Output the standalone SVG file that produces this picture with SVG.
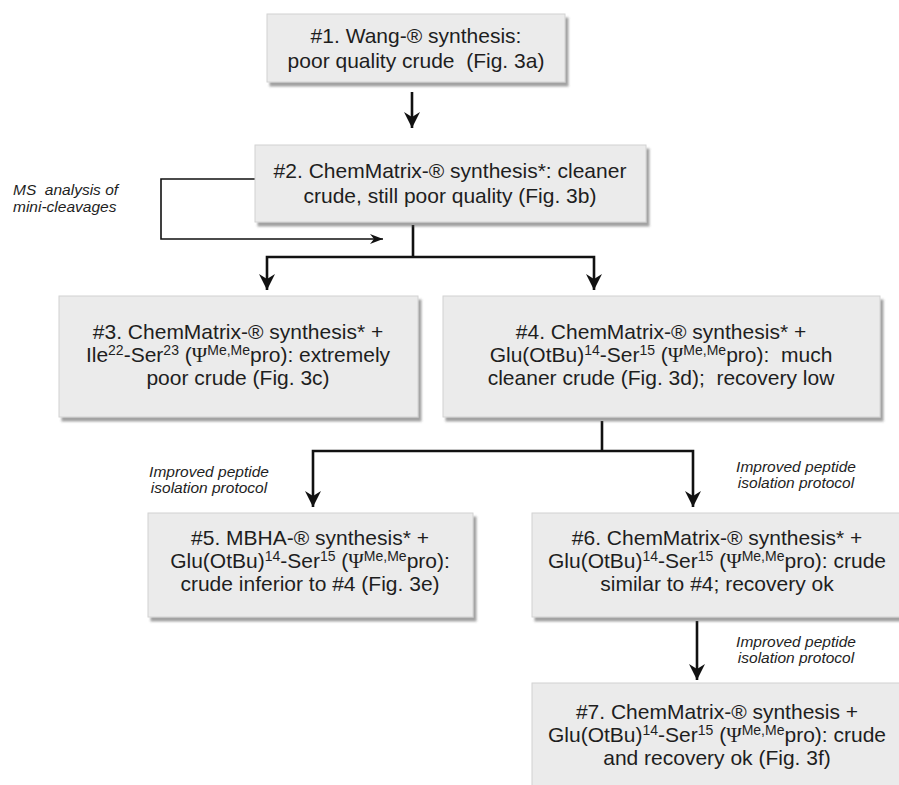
<svg xmlns="http://www.w3.org/2000/svg" width="899" height="785" viewBox="0 0 899 785">
<style>
.box{fill:#ebebeb;stroke:#d2d2d2;stroke-width:1;filter:url(#sh)}
.t{font-family:"Liberation Sans",Arial,sans-serif;font-size:21px;fill:#1e1e1e;text-anchor:middle;white-space:pre}
.lab{font-family:"Liberation Sans",Arial,sans-serif;font-size:15.5px;font-style:italic;fill:#1e1e1e;text-anchor:middle;white-space:pre}
.sup{font-size:14px}
.psi{font-family:"Liberation Serif","Times New Roman",serif}
.c{fill:none;stroke:#111;stroke-width:2.6}
.cs{fill:none;stroke:#111;stroke-width:1.6}
</style>
<defs>
<filter id="sh" x="-5%" y="-5%" width="115%" height="120%">
<feDropShadow dx="3" dy="4" stdDeviation="1.3" flood-color="#555" flood-opacity="0.55"/>
</filter>
<marker id="ah" markerUnits="userSpaceOnUse" markerWidth="20" markerHeight="20" refX="16" refY="8" orient="auto" viewBox="0 0 20 20">
<path d="M16,8 L0,0 L5,8 L0,16 Z" fill="#111"/>
</marker>
<marker id="as" markerUnits="userSpaceOnUse" markerWidth="16" markerHeight="12" refX="13" refY="5" orient="auto" viewBox="0 0 16 12">
<path d="M13,5 L0,0 L4,5 L0,10 Z" fill="#111"/>
</marker>
</defs>

<g id="connectors">
<path class="c" d="M412,92 V128" marker-end="url(#ah)"/>
<path class="cs" d="M255,179 H161 V239 H383" marker-end="url(#as)"/>
<path class="c" d="M413,225 V257"/>
<path class="c" d="M413,257 H267 V290" marker-end="url(#ah)"/>
<path class="c" d="M413,257 H594 V290" marker-end="url(#ah)"/>
<path class="c" d="M602,421 V451"/>
<path class="c" d="M602,451 H313 V507" marker-end="url(#ah)"/>
<path class="c" d="M602,451 H693 V507" marker-end="url(#ah)"/>
<path class="c" d="M697,621 V680" marker-end="url(#ah)"/>
</g>

<g id="labels">
<text class="lab" style="text-anchor:start" x="13" y="195">MS  analysis of</text>
<text class="lab" style="text-anchor:start" x="13" y="212">mini-cleavages</text>
<text class="lab" x="209" y="477">Improved peptide</text>
<text class="lab" x="209" y="493">isolation protocol</text>
<text class="lab" x="796" y="472">Improved peptide</text>
<text class="lab" x="796" y="488">isolation protocol</text>
<text class="lab" x="796" y="647">Improved peptide</text>
<text class="lab" x="796" y="663">isolation protocol</text>
</g>

<g id="n1">
<rect class="box" x="267" y="14" width="298" height="68"/>
<text class="t" x="416" y="43">#1. Wang-® synthesis:</text>
<text class="t" x="416" y="68">poor quality crude  (Fig. 3a)</text>
</g>

<g id="n2">
<rect class="box" x="255" y="145" width="391" height="77"/>
<text class="t" x="450" y="178">#2. ChemMatrix-® synthesis*: cleaner</text>
<text class="t" x="450" y="203">crude, still poor quality (Fig. 3b)</text>
</g>

<g id="n3">
<rect class="box" x="59" y="296" width="359" height="121"/>
<text class="t" x="238" y="339">#3. ChemMatrix-® synthesis* +</text>
<text class="t" x="238" y="362">Ile<tspan class="sup" baseline-shift="7">22</tspan>-Ser<tspan class="sup" baseline-shift="7">23</tspan> (<tspan class="psi">Ψ</tspan><tspan class="sup" baseline-shift="7">Me,Me</tspan>pro): extremely</text>
<text class="t" x="238" y="385">poor crude (Fig. 3c)</text>
</g>

<g id="n4">
<rect class="box" x="443" y="296" width="437" height="121"/>
<text class="t" x="661" y="339">#4. ChemMatrix-® synthesis* +</text>
<text class="t" x="661" y="362">Glu(OtBu)<tspan class="sup" baseline-shift="7">14</tspan>-Ser<tspan class="sup" baseline-shift="7">15</tspan> (<tspan class="psi">Ψ</tspan><tspan class="sup" baseline-shift="7">Me,Me</tspan>pro):  much</text>
<text class="t" x="661" y="385">cleaner crude (Fig. 3d);  recovery low</text>
</g>

<g id="n5">
<rect class="box" x="148" y="513" width="325" height="104"/>
<text class="t" x="310" y="545">#5. MBHA-® synthesis* +</text>
<text class="t" x="310" y="568">Glu(OtBu)<tspan class="sup" baseline-shift="7">14</tspan>-Ser<tspan class="sup" baseline-shift="7">15</tspan> (<tspan class="psi">Ψ</tspan><tspan class="sup" baseline-shift="7">Me,Me</tspan>pro):</text>
<text class="t" x="310" y="591">crude inferior to #4 (Fig. 3e)</text>
</g>

<g id="n6">
<rect class="box" x="532" y="513" width="370" height="104"/>
<text class="t" x="717" y="545">#6. ChemMatrix-® synthesis* +</text>
<text class="t" x="717" y="568">Glu(OtBu)<tspan class="sup" baseline-shift="7">14</tspan>-Ser<tspan class="sup" baseline-shift="7">15</tspan> (<tspan class="psi">Ψ</tspan><tspan class="sup" baseline-shift="7">Me,Me</tspan>pro): crude</text>
<text class="t" x="717" y="591">similar to #4; recovery ok</text>
</g>

<g id="n7">
<rect class="box" x="532" y="683" width="370" height="110"/>
<text class="t" x="717" y="719">#7. ChemMatrix-® synthesis +</text>
<text class="t" x="717" y="742">Glu(OtBu)<tspan class="sup" baseline-shift="7">14</tspan>-Ser<tspan class="sup" baseline-shift="7">15</tspan> (<tspan class="psi">Ψ</tspan><tspan class="sup" baseline-shift="7">Me,Me</tspan>pro): crude</text>
<text class="t" x="717" y="765">and recovery ok (Fig. 3f)</text>
</g>
</svg>
